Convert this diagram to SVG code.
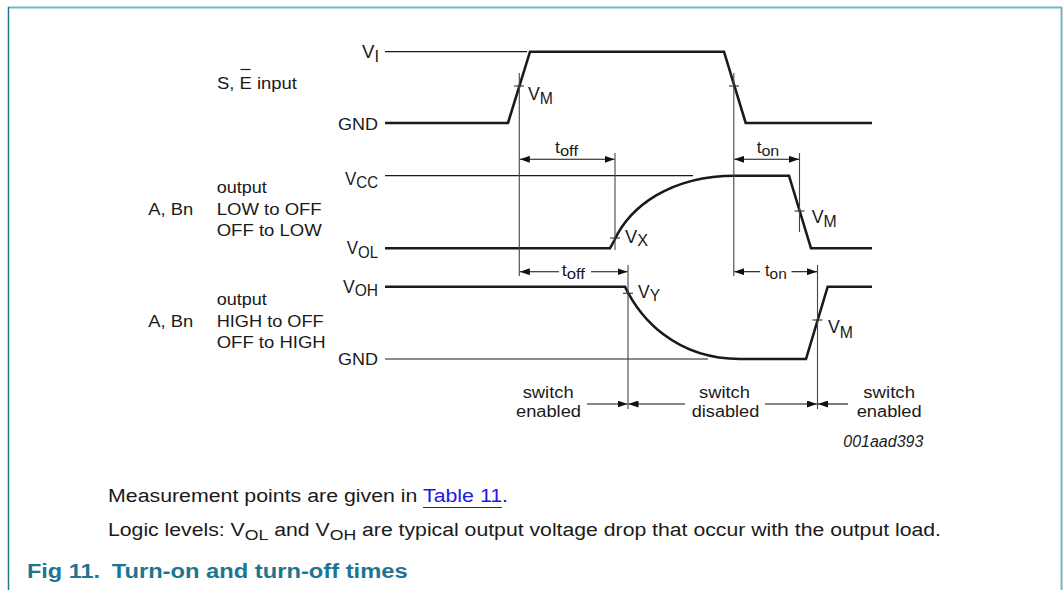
<svg xmlns="http://www.w3.org/2000/svg" width="1063" height="590" viewBox="0 0 1063 590">
<defs>
<marker id="ah" viewBox="0 0 10 7" markerWidth="10" markerHeight="7" refX="10" refY="3.5" orient="auto-start-reverse" markerUnits="userSpaceOnUse">
<path d="M0,0 L10,3.5 L0,7 Z" fill="#111"/>
</marker>
<style>
text{font-family:"Liberation Sans",Arial,sans-serif;fill:#1a1a1a;}
.lbl{font-size:16px;}
.v{font-size:18px;}
.sub{font-size:16px;}
.sig{fill:none;stroke:#1a1a1a;stroke-width:2.6;stroke-linejoin:miter;}
.ref{fill:none;stroke:#1a1a1a;stroke-width:1.2;}
.dim{fill:none;stroke:#444;stroke-width:1.1;}
.arr{fill:none;stroke:#111;stroke-width:1.1;}
.tick{stroke:#333;stroke-width:1.1;}
.cap{font-size:18px;}
.fig{font-size:20px;font-weight:bold;fill:#1c7691;}
</style>
</defs>
<rect width="1063" height="590" fill="#fff"/>
<g id="frame">
<line x1="8" y1="7.5" x2="1062" y2="7.5" stroke="#7ab4c4" stroke-width="2"/>
<line x1="8.5" y1="7" x2="8.5" y2="590" stroke="#1f7a8c" stroke-width="1.5"/>
<line x1="1061.5" y1="7" x2="1061.5" y2="590" stroke="#7ab4c4" stroke-width="2"/>
</g>
<g id="input-wave">
<line class="ref" x1="385" y1="51.7" x2="527" y2="51.7"/>
<polyline class="sig" points="385,123 508,123 530,51.7 724,51.7 745.7,123 872,123"/>
<text class="v" x="362" y="58.3" textLength="17" lengthAdjust="spacingAndGlyphs">V<tspan class="sub" dy="3.4">I</tspan></text>
<text class="lbl" x="338" y="130" font-size="17" textLength="40" lengthAdjust="spacingAndGlyphs">GND</text>
<text class="lbl" x="217" y="89.3" font-size="17" textLength="80" lengthAdjust="spacingAndGlyphs">S, E input</text>
<line x1="240.5" y1="69.5" x2="250.5" y2="69.5" stroke="#1a1a1a" stroke-width="1.2"/>
<text class="v" x="528" y="100" textLength="25" lengthAdjust="spacingAndGlyphs">V<tspan class="sub" dy="4">M</tspan></text>
</g>
<g id="lowoff-wave">
<line class="ref" x1="385" y1="175.7" x2="693" y2="175.7"/>
<path class="sig" d="M385,248.3 L610,248.3 L614.5,240 C630,207 670,175.7 735,175.7 L789,175.7 L811,248.3 L872,248.3"/>
<text class="v" x="345" y="185" textLength="33" lengthAdjust="spacingAndGlyphs">V<tspan class="sub" dy="2.5">CC</tspan></text>
<text class="v" x="346.7" y="254.3" textLength="31.3" lengthAdjust="spacingAndGlyphs">V<tspan class="sub" dy="4">OL</tspan></text>
<text class="lbl" x="148.3" y="214.5" textLength="45" lengthAdjust="spacingAndGlyphs">A, Bn</text>
<text class="lbl" x="216.7" y="193.3" textLength="50" lengthAdjust="spacingAndGlyphs">output</text>
<text class="lbl" x="216.7" y="215" textLength="105" lengthAdjust="spacingAndGlyphs">LOW to OFF</text>
<text class="lbl" x="216.7" y="236" textLength="105" lengthAdjust="spacingAndGlyphs">OFF to LOW</text>
<text class="v" x="625" y="243" textLength="23" lengthAdjust="spacingAndGlyphs">V<tspan class="sub" dy="3">X</tspan></text>
<text class="v" x="811.7" y="223" textLength="25" lengthAdjust="spacingAndGlyphs">V<tspan class="sub" dy="4">M</tspan></text>
</g>
<g id="highoff-wave">
<line class="ref" x1="385" y1="359" x2="708" y2="359"/>
<path class="sig" d="M385,286.7 L625,286.7 C640,318 675,359 740,359 L806,359 L827.7,286.7 L872,286.7"/>
<text class="v" x="343" y="292.7" textLength="35" lengthAdjust="spacingAndGlyphs">V<tspan class="sub" dy="3">OH</tspan></text>
<text class="lbl" x="338" y="365" font-size="17" textLength="40" lengthAdjust="spacingAndGlyphs">GND</text>
<text class="lbl" x="148.3" y="326.7" textLength="45" lengthAdjust="spacingAndGlyphs">A, Bn</text>
<text class="lbl" x="216.7" y="305" textLength="50" lengthAdjust="spacingAndGlyphs">output</text>
<text class="lbl" x="216.7" y="326.7" textLength="107" lengthAdjust="spacingAndGlyphs">HIGH to OFF</text>
<text class="lbl" x="216.7" y="348.3" textLength="109" lengthAdjust="spacingAndGlyphs">OFF to HIGH</text>
<text class="v" x="638" y="298" textLength="22" lengthAdjust="spacingAndGlyphs">V<tspan class="sub" dy="2.5">Y</tspan></text>
<text class="v" x="828" y="333" textLength="25" lengthAdjust="spacingAndGlyphs">V<tspan class="sub" dy="4.5">M</tspan></text>
</g>
<g id="connectors">
<line class="dim" x1="519.3" y1="73" x2="519.3" y2="276"/>
<line class="dim" x1="733.8" y1="73" x2="733.8" y2="276"/>
<line class="dim" x1="615" y1="153" x2="615" y2="250"/>
<line class="dim" x1="799.5" y1="153" x2="799.5" y2="232"/>
<line class="dim" x1="628" y1="265" x2="628" y2="409"/>
<line class="dim" x1="817.5" y1="265" x2="817.5" y2="409"/>
<line class="tick" x1="514" y1="86" x2="524" y2="86"/>
<line class="tick" x1="729" y1="86" x2="739" y2="86"/>
<line class="tick" x1="610" y1="238" x2="620" y2="238"/>
<line class="tick" x1="794.5" y1="211" x2="804.5" y2="211"/>
<line class="tick" x1="623" y1="293.3" x2="633" y2="293.3"/>
<line class="tick" x1="812.5" y1="320" x2="822.5" y2="320"/>
<line class="arr" x1="519.8" y1="159.3" x2="614.5" y2="159.3" marker-start="url(#ah)" marker-end="url(#ah)"/>
<line class="arr" x1="734.3" y1="159.3" x2="799" y2="159.3" marker-start="url(#ah)" marker-end="url(#ah)"/>
<line class="arr" x1="519.8" y1="271.7" x2="559" y2="271.7" marker-start="url(#ah)"/>
<line class="arr" x1="591" y1="271.7" x2="627.5" y2="271.7" marker-end="url(#ah)"/>
<line class="arr" x1="734.3" y1="271.7" x2="760" y2="271.7" marker-start="url(#ah)"/>
<line class="arr" x1="791.5" y1="271.7" x2="817" y2="271.7" marker-end="url(#ah)"/>
<line class="arr" x1="587" y1="404" x2="627.5" y2="404" marker-end="url(#ah)"/>
<line class="arr" x1="685" y1="404" x2="628.5" y2="404" marker-end="url(#ah)"/>
<line class="arr" x1="765" y1="404" x2="817" y2="404" marker-end="url(#ah)"/>
<line class="arr" x1="848" y1="404" x2="818" y2="404" marker-end="url(#ah)"/>
</g>
<g id="timing-labels">
<text class="lbl" x="555" y="153.3" textLength="23" lengthAdjust="spacingAndGlyphs">t<tspan font-size="15" dy="3">off</tspan></text>
<text class="lbl" x="756.7" y="153.3" textLength="22.6" lengthAdjust="spacingAndGlyphs">t<tspan font-size="15" dy="3">on</tspan></text>
<text class="lbl" x="561.7" y="276" textLength="23.3" lengthAdjust="spacingAndGlyphs">t<tspan font-size="15" dy="3">off</tspan></text>
<text class="lbl" x="765" y="276" textLength="21.7" lengthAdjust="spacingAndGlyphs">t<tspan font-size="15" dy="3">on</tspan></text>
</g>
<g id="state-labels">
<text class="lbl" x="522.7" y="398" textLength="51" lengthAdjust="spacingAndGlyphs">switch</text>
<text class="lbl" x="516" y="416.5" textLength="65" lengthAdjust="spacingAndGlyphs">enabled</text>
<text class="lbl" x="699" y="398" textLength="51" lengthAdjust="spacingAndGlyphs">switch</text>
<text class="lbl" x="691.7" y="416.5" textLength="67.6" lengthAdjust="spacingAndGlyphs">disabled</text>
<text class="lbl" x="863.3" y="398" textLength="51.7" lengthAdjust="spacingAndGlyphs">switch</text>
<text class="lbl" x="856.7" y="416.5" textLength="65" lengthAdjust="spacingAndGlyphs">enabled</text>
<text class="lbl" x="843.3" y="447" font-style="italic" textLength="80" lengthAdjust="spacingAndGlyphs">001aad393</text>
</g>
<g id="caption">
<text class="cap" x="108" y="502" textLength="400" lengthAdjust="spacingAndGlyphs">Measurement points are given in <tspan fill="#1a1ae6">Table 11</tspan>.</text>
<line x1="423" y1="507.5" x2="502" y2="507.5" stroke="#1a1ae6" stroke-width="1.2"/>
<text class="cap" x="108" y="536" textLength="833" lengthAdjust="spacingAndGlyphs">Logic levels: V<tspan font-size="15" dy="3.5">OL</tspan><tspan dy="-3.5"> and V</tspan><tspan font-size="15" dy="3.5">OH</tspan><tspan dy="-3.5"> are typical output voltage drop that occur with the output load.</tspan></text>
<text class="fig" x="27" y="577.5" textLength="73" lengthAdjust="spacingAndGlyphs">Fig 11.</text>
<text class="fig" x="111.7" y="577.5" textLength="296" lengthAdjust="spacingAndGlyphs">Turn-on and turn-off times</text>
</g>
</svg>
